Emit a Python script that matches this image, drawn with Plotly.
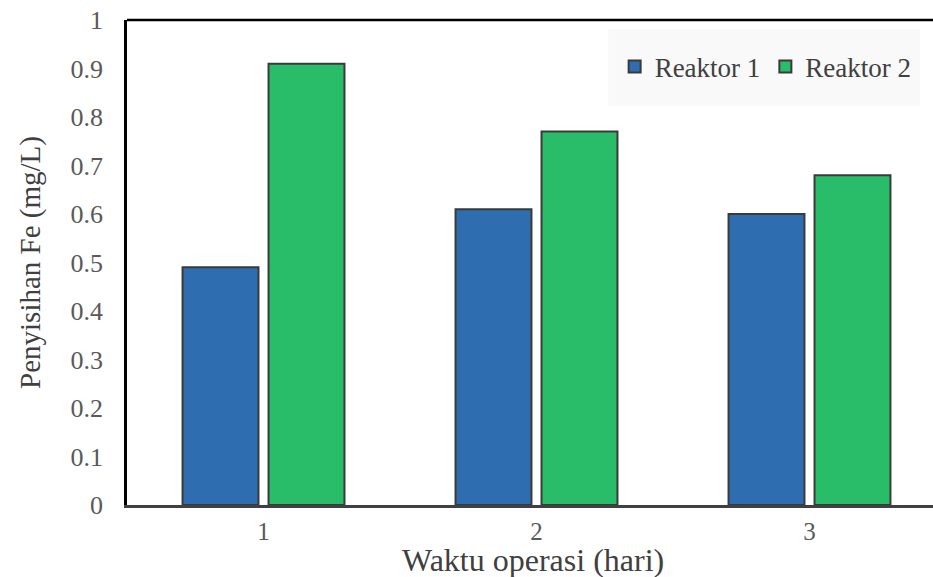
import plotly.graph_objects as go

categories = [1, 2, 3]
cat_labels = ["1", "2", "3"]
reaktor1 = [0.49, 0.61, 0.60]
reaktor2 = [0.91, 0.77, 0.68]
yticks = [0, 0.1, 0.2, 0.3, 0.4, 0.5, 0.6, 0.7, 0.8, 0.9, 1]
ytick_labels = ["0", "0.1", "0.2", "0.3", "0.4", "0.5", "0.6", "0.7", "0.8", "0.9", "1"]

font = "Liberation Serif, Times New Roman, serif"
fig = go.Figure()
fig.add_trace(go.Bar(x=categories, y=reaktor1, name="Reaktor 1",
                     marker=dict(color="#2E6EB0", line=dict(color="#3A3A3A", width=2))))
fig.add_trace(go.Bar(x=categories, y=reaktor2, name="Reaktor 2",
                     marker=dict(color="#2ABD69", line=dict(color="#3A3A3A", width=2))))

# plot area: page x 127..946 (extends past right edge), y 20..505
fig.update_layout(
    width=933, height=577,
    margin=dict(l=127, r=0, t=20, b=72),
    paper_bgcolor="white", plot_bgcolor="white",
    barmode="group", bargap=0.37, bargroupgap=0.117,
    font=dict(family=font, color="#595959", size=26),
    showlegend=True,
    legend=dict(orientation="h", x=0.605, y=0.903, xanchor="left", yanchor="middle",
                bgcolor="rgba(0,0,0,0)", font=dict(size=27, color="#404040"),
                itemwidth=30, traceorder="normal", borderwidth=0),
    xaxis=dict(range=[0.5, 0.5 + 806 / 273], tickvals=categories, ticktext=cat_labels,
               showline=True, linecolor="#404040", linewidth=2.5, showgrid=False,
               ticks="", zeroline=False, ticklabelstandoff=2, automargin=False,
               ticklabeloverflow="allow", tickfont=dict(size=25)),
    yaxis=dict(range=[0, 1], tickvals=yticks, ticktext=ytick_labels,
               showline=True, linecolor="black", linewidth=2.5, showgrid=False,
               ticks="", zeroline=False, ticklabelstandoff=16, automargin=False,
               ticklabeloverflow="allow",
               title=dict(text="Penyisihan Fe (mg/L)", font=dict(size=29, color="#404040"), standoff=22)),
)
fig.add_annotation(text="Waktu operasi (hari)", xref="paper", yref="paper",
                   x=0.504, y=-0.113, xanchor="center", yanchor="middle", showarrow=False,
                   borderpad=0, font=dict(size=32, color="#404040", family=font))
fig.add_shape(type="rect", xref="paper", yref="paper", x0=0.597, x1=0.984, y0=0.823, y1=0.981,
              fillcolor="#F9F9F9", line=dict(width=0), layer="below")
fig.add_shape(type="line", xref="paper", yref="paper", x0=0, x1=1, y0=1, y1=1,
              line=dict(color="black", width=2.5))
fig.write_html("out.html", config={"displayModeBar": False},
               post_script="document.body.style.margin='0';")
